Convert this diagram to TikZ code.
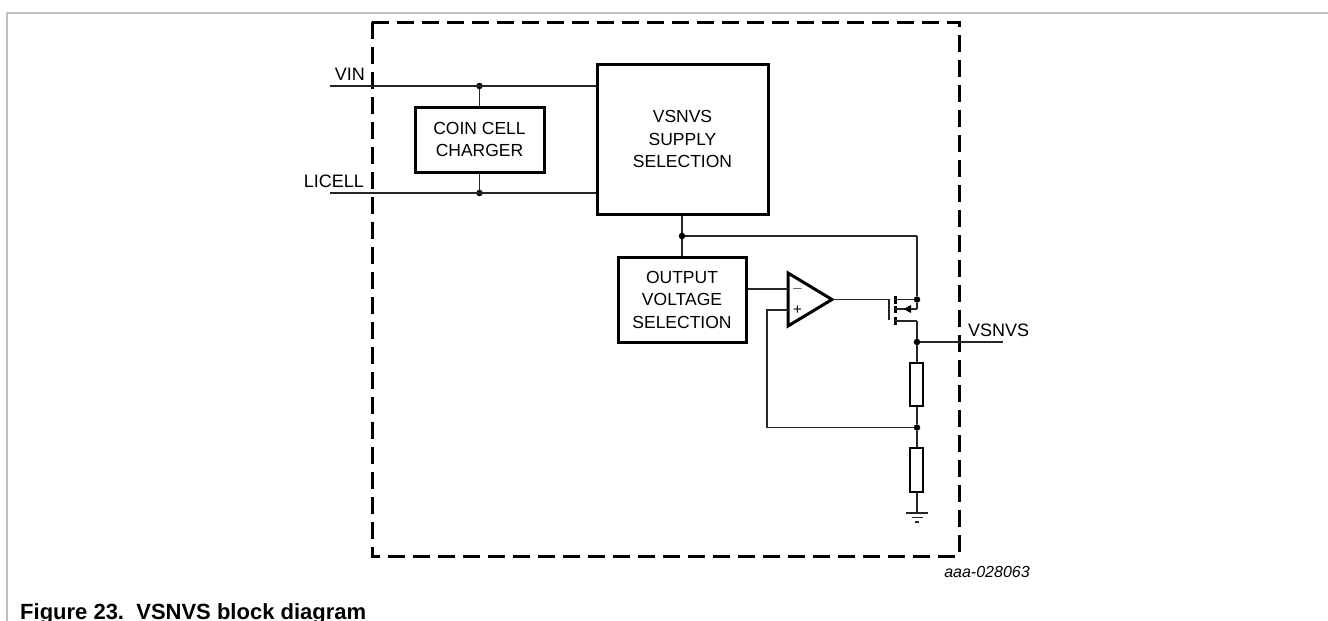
\documentclass[tikz,border=0pt]{standalone}
\usepackage{fontspec}
\setmainfont{Liberation Sans}
\usetikzlibrary{arrows.meta}
\begin{document}
\begin{tikzpicture}[x=1pt,y=-1pt,
  wire/.style={line width=1.6pt, draw=black!85},
  thick wire/.style={line width=3pt, draw=black},
  blk/.style={draw, line width=3pt, inner sep=0pt, align=center, font=\fontsize{17.5}{22.5}\selectfont},
  lbl/.style={font=\fontsize{18}{22}\selectfont, inner sep=0pt},
  dot/.style={circle, fill=black, inner sep=0pt, minimum size=6.5pt},
  sign/.style={font=\fontsize{15}{15}\selectfont, inner sep=0pt},
]
\useasboundingbox (0,0) rectangle (1328,621);
% page frame
\draw[black!25, line width=2pt] (7,621) -- (7,13) -- (1328,13);
% dashed chip boundary
\draw[line width=3pt, dash pattern=on 17pt off 8pt] (372,22) rectangle (959,556);

% blocks
\node[blk, minimum width=129pt, minimum height=65pt] (coin) at (479.5,139.5) {COIN CELL\\CHARGER};
\node[blk, minimum width=171pt, minimum height=150pt] (supply) at (682.5,139) {VSNVS\\SUPPLY\\SELECTION};
\node[blk, minimum width=128pt, minimum height=85pt] (outsel) at (682,299.5) {OUTPUT\\VOLTAGE\\SELECTION};

% inputs
\coordinate (vinL) at (330,86);
\coordinate (licL) at (330,193);
\node[dot] (jvin) at (479.5,86) {};
\node[dot] (jlic) at (479.5,193) {};
\node[lbl, anchor=base east] (vinlbl) at (365,80) {VIN};
\node[lbl, anchor=base east] (liclbl) at (364,187) {LICELL};
\draw[wire] (vinL) -- (vinL -| supply.west);
\draw[wire] (licL) -- (licL -| supply.west);
\draw[wire] (jvin) -- (coin.north);
\draw[wire] (jlic) -- (coin.south);

% supply output rail
\node[dot] (jsup) at (682,236) {};
\coordinate (railR) at (917,236);
\draw[wire] (supply.south -| jsup) -- (jsup) -- (outsel.north -| jsup);
\draw[wire] (jsup) -- (railR);

% op-amp
\coordinate (oaTop) at (788,273);
\coordinate (oaBot) at (788,326);
\coordinate (oaOut) at (832,299.5);
\coordinate (oaMinus) at (788,289);
\coordinate (oaPlus) at (788,310);
\draw[thick wire, line join=miter] (oaTop) -- (oaOut) -- (oaBot) -- cycle;
\node[sign] (minus) at (797.5,289) {$-$};
\node[sign] (plus) at (797.5,310) {+};
\draw[wire] (outsel.east |- oaMinus) -- (oaMinus);

% MOSFET
\coordinate (gateT) at (889,299.5);
\coordinate (gateB) at (889,320);
\coordinate (drainJ) at (917,299.5);
\coordinate (bodyJ) at (917,309);
\coordinate (srcJ) at (917,321);
\node[dot] (jdrain) at (drainJ) {};
\draw[wire] (oaOut) -- (gateT) -- (gateB);
\draw[thick wire] (895,296) -- (895,303.5);
\draw[thick wire] (895,306) -- (895,313);
\draw[thick wire] (895,317) -- (895,324.5);
\draw[wire] (railR) -- (jdrain) -- (bodyJ);
\draw[wire] (895,299.5) -- (jdrain);
\draw[wire] (895,309) -- (bodyJ);
\fill (903.5,309) -- (911,305) -- (911,313) -- cycle;
\draw[wire] (895,321) -- (srcJ);

% output
\node[dot] (jout) at (917,342) {};
\coordinate (outR) at (1003,342);
\node[lbl, anchor=base west] (vsnvs) at (968,336) {VSNVS};
\draw[wire] (srcJ) -- (jout) -- (outR);

% divider
\node[draw=black, line width=1.3pt, minimum width=13pt, minimum height=43pt, inner sep=0pt, fill=white] (r1) at (916.5,384.5) {};
\node[dot] (jfb) at (917,427.5) {};
\node[draw=black, line width=1.3pt, minimum width=13pt, minimum height=44pt, inner sep=0pt, fill=white] (r2) at (916.5,470) {};
\coordinate (gnd) at (917,513);
\draw[wire] (jout) -- (r1.north -| jout);
\draw[wire] (r1.south -| jfb) -- (jfb) -- (r2.north -| jfb);
\draw[wire] (r2.south -| gnd) -- (gnd);
\draw[wire] (906,513) -- (928,513);
\draw[wire] (911.5,517.5) -- (922.5,517.5);
\draw[wire] (915,522) -- (919,522);

% feedback
\coordinate (fbL) at (767,427.5);
\draw[wire] (jfb) -- (fbL) -- (fbL |- oaPlus) -- (oaPlus);

% labels
\node[font=\fontsize{16}{16}\selectfont\itshape, inner sep=0pt] (docid) at (987,572) {aaa-028063};
\node[font=\fontsize{22}{22}\selectfont\bfseries, inner sep=0pt, anchor=base west] (caption) at (20,619) {Figure 23.\ \ VSNVS block diagram};
\end{tikzpicture}
\end{document}
